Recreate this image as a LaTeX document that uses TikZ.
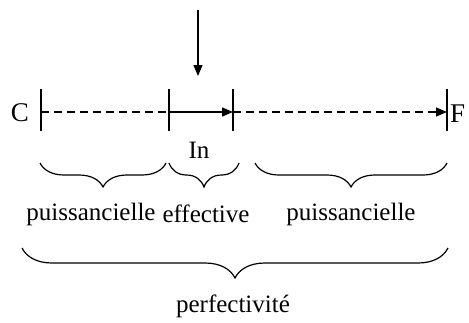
\documentclass[tikz,border=0pt]{standalone}
\usepackage{fontspec}
\setmainfont{Liberation Serif}
\usetikzlibrary{arrows.meta,decorations.pathreplacing}
\begin{document}
\begin{tikzpicture}[x=1pt,y=-1pt,
  tick/.style={line width=1.8pt},
  axis/.style={line width=1.4pt},
  dashline/.style={axis,dash pattern=on 8pt off 5pt},
  tip/.style={-{Triangle[length=11pt,width=9pt]}},
  lbl/.style={font=\fontsize{25}{28}\selectfont, inner sep=0pt},
  endlbl/.style={font=\fontsize{27}{30}\selectfont, inner sep=0pt},
  brc/.style={line width=1.2pt,decorate}]
\useasboundingbox (0,0) rectangle (469,322);
% tick coordinates
\coordinate (c) at (41,112);
\coordinate (m1) at (169,112);
\coordinate (m2) at (233,112);
\coordinate (f) at (447,112);
\foreach \p in {c,m1,m2,f} \draw[tick] ([yshift=-19pt]\p) -- ([yshift=23pt]\p);
\node[endlbl] (C) at (20,113) {C};
\node[endlbl,anchor=west] (F) at (450,114) {F};
\draw[dashline] (c) -- (m1);
\draw[axis,tip] (m1) -- (m2);
\draw[dashline,tip] (m2) -- (f);
% top arrow
\coordinate (a0) at (198,10);
\coordinate (a1) at (198,76);
\draw[axis,tip] (a0) -- (a1);
\node[lbl] (In) at (199,150) {In};
% braces
\draw[brc,decoration={brace,mirror,amplitude=24pt}] (40,163) -- (166,163);
\draw[brc,decoration={brace,mirror,amplitude=24pt}] (169,163) -- (239,163);
\draw[brc,decoration={brace,mirror,amplitude=24pt}] (255,163) -- (447,163);
\node[lbl] (p1) at (91,214) {puissancielle};
\node[lbl] (e1) at (206,214) {effective};
\node[lbl] (p2) at (351,214) {puissancielle};
\draw[brc,decoration={brace,mirror,amplitude=30pt}] (22,248) -- (448,248);
\node[lbl] (pf) at (233,306) {perfectivité};
\end{tikzpicture}
\end{document}
